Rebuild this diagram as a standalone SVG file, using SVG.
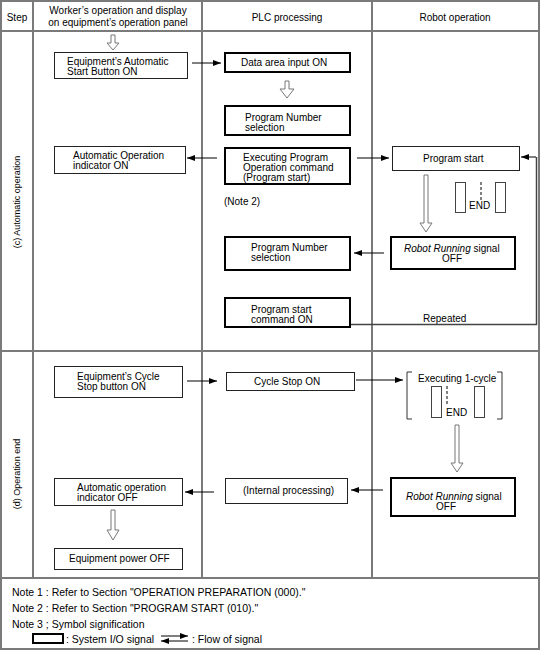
<svg xmlns="http://www.w3.org/2000/svg" width="541" height="651" viewBox="0 0 541 651">
<style>
text{font-family:"Liberation Sans",Arial,sans-serif;font-size:10px;fill:#000}
.grid{stroke:#7a7a7a;stroke-width:2;fill:none}
.thin{fill:#fff;stroke:#222;stroke-width:1}
.thick{fill:#fff;stroke:#000;stroke-width:2}
.hollow{fill:#fff;stroke:#777;stroke-width:1}
.arr{stroke:#000;stroke-width:1;fill:none;marker-end:url(#ah)}
.step{font-size:9px}
.note{font-size:10.5px}
.c{text-anchor:middle}
</style>
<defs>
<marker id="ah" markerUnits="userSpaceOnUse" markerWidth="8" markerHeight="6" refX="8" refY="3" orient="auto">
<path d="M0,0 L8,3 L0,6 z" fill="#000"/>
</marker>
</defs>
<rect width="541" height="651" fill="#fff"/>
<g id="grid">
<rect class="grid" x="1" y="1" width="538" height="648"/>
<line class="grid" x1="1" y1="31" x2="539" y2="31"/>
<line class="grid" x1="1" y1="351" x2="539" y2="351"/>
<line class="grid" x1="1" y1="578" x2="539" y2="578"/>
<line class="grid" x1="33" y1="1" x2="33" y2="578"/>
<line class="grid" x1="202" y1="1" x2="202" y2="578"/>
<line class="grid" x1="372" y1="1" x2="372" y2="578"/>
</g>
<g id="header">
<text class="c" x="17" y="21">Step</text>
<text class="c" x="118" y="14">Worker’s operation and display</text>
<text class="c" x="118" y="26">on equipment’s operation panel</text>
<text class="c" x="287" y="21">PLC processing</text>
<text class="c" x="455" y="21">Robot operation</text>
</g>
<g id="steps">
<text class="step c" transform="translate(20,202) rotate(-90)">(c) Automatic operation</text>
<text class="step c" transform="translate(20,474) rotate(-90)">(d) Operation end</text>
</g>
<g id="hollow-arrows">
<path class="hollow" d="M111,35 H115 V43 H119 L113,50 L107,43 H111 Z"/>
<path class="hollow" d="M285,81 H289 V89 H294 L287,98 L280,89 H285 Z"/>
<path class="hollow" d="M424,175 H428 V223 H432 L426,232 L420,223 H424 Z"/>
<path class="hollow" d="M111,510 H115 V530 H119 L113,540 L107,530 H111 Z"/>
<path class="hollow" d="M455,425 H459 V463 H463 L457,472 L451,463 H455 Z"/>
</g>
<g id="n-auto-start">
<rect class="thin" x="54.5" y="52.5" width="133" height="26"/>
<text x="67" y="65">Equipment’s Automatic</text>
<text x="67" y="75">Start Button ON</text>
</g>
<g id="n-data-area">
<rect class="thick" x="225" y="53" width="125" height="19"/>
<text x="241" y="66">Data area input ON</text>
</g>
<g id="n-prog-num-1">
<rect class="thick" x="225" y="106" width="125" height="29"/>
<text x="245" y="121">Program Number</text>
<text x="245" y="131">selection</text>
</g>
<g id="n-auto-ind-on">
<rect class="thin" x="54.5" y="146.5" width="131" height="27"/>
<text x="73" y="159">Automatic Operation</text>
<text x="73" y="169">indicator ON</text>
</g>
<g id="n-exec-prog">
<rect class="thick" x="225" y="148" width="125" height="36"/>
<text x="243" y="161">Executing Program</text>
<text x="243" y="171">Operation command</text>
<text x="243" y="181">(Program start)</text>
</g>
<text x="224" y="205">(Note 2)</text>
<g id="n-prog-start">
<rect class="thin" x="392.5" y="146.5" width="127" height="24"/>
<text x="423" y="162">Program start</text>
</g>
<g id="end-1">
<rect x="455.5" y="182.5" width="10" height="30" fill="none" stroke="#444" stroke-width="1"/>
<rect x="495.5" y="182.5" width="10" height="30" fill="none" stroke="#444" stroke-width="1"/>
<line x1="481" y1="182" x2="481" y2="201" stroke="#000" stroke-width="1" stroke-dasharray="3,2"/>
<text x="469" y="209">END</text>
</g>
<g id="n-robot-running-1">
<rect class="thick" x="391" y="237" width="124" height="32"/>
<text x="404" y="252"><tspan font-style="italic">Robot Running</tspan> signal</text>
<text x="442" y="262">OFF</text>
</g>
<g id="n-prog-num-2">
<rect class="thick" x="225" y="237" width="125" height="33"/>
<text x="251" y="251">Program Number</text>
<text x="251" y="261">selection</text>
</g>
<g id="n-prog-start-cmd">
<rect class="thick" x="225" y="298" width="125" height="29"/>
<text x="251" y="313">Program start</text>
<text x="251" y="323">command ON</text>
</g>
<text x="423" y="322">Repeated</text>
<g id="n-cycle-stop-btn">
<rect class="thin" x="54.5" y="366.5" width="128" height="31"/>
<text x="77" y="380">Equipment’s Cycle</text>
<text x="77" y="390">Stop button ON</text>
</g>
<g id="n-cycle-stop">
<rect class="thin" x="226.5" y="372.5" width="128" height="18"/>
<text x="254" y="385">Cycle Stop ON</text>
</g>
<g id="n-exec-cycle">
<path d="M412,372 H407 V419 H412" fill="none" stroke="#333" stroke-width="1"/>
<path d="M497,372 H502 V419 H497" fill="none" stroke="#333" stroke-width="1"/>
<text x="418" y="382">Executing 1-cycle</text>
<rect x="431.5" y="386.5" width="10" height="31" fill="none" stroke="#444" stroke-width="1"/>
<rect x="474.5" y="386.5" width="10" height="31" fill="none" stroke="#444" stroke-width="1"/>
<line x1="447" y1="386" x2="447" y2="405" stroke="#000" stroke-width="1" stroke-dasharray="3,2"/>
<text x="446" y="416">END</text>
</g>
<g id="n-auto-ind-off">
<rect class="thin" x="54.5" y="478.5" width="128" height="27"/>
<text x="77" y="491">Automatic operation</text>
<text x="77" y="501">indicator OFF</text>
</g>
<g id="n-internal">
<rect class="thin" x="225.5" y="478.5" width="122" height="25"/>
<text x="243" y="494">(Internal processing)</text>
</g>
<g id="n-robot-running-2">
<rect class="thick" x="391" y="478" width="124" height="38"/>
<text x="406" y="500"><tspan font-style="italic">Robot Running</tspan> signal</text>
<text x="436" y="510">OFF</text>
</g>
<g id="n-power-off">
<rect class="thin" x="54.5" y="548.5" width="128" height="21"/>
<text x="69" y="562">Equipment power OFF</text>
</g>
<g id="connectors">
<line class="arr" x1="192" y1="63" x2="221" y2="63"/>
<line class="arr" x1="217" y1="158" x2="187" y2="158"/>
<line class="arr" x1="357" y1="158" x2="389" y2="158"/>
<line class="arr" x1="384" y1="253" x2="354" y2="253"/>
<polyline points="351,324.5 536.5,324.5 536.5,157" fill="none" stroke="#444" stroke-width="1.5"/>
<line class="arr" x1="536" y1="157" x2="521" y2="157"/>
<line class="arr" x1="187" y1="381" x2="217" y2="381"/>
<line class="arr" x1="356" y1="380" x2="403" y2="380"/>
<line class="arr" x1="383" y1="490" x2="351" y2="490"/>
<line class="arr" x1="214" y1="492" x2="185" y2="492"/>
</g>
<g id="notes">
<text class="note" x="12" y="596">Note 1 : Refer to Section "OPERATION PREPARATION (000)."</text>
<text class="note" x="12" y="612">Note 2 : Refer to Section "PROGRAM START (010)."</text>
<text class="note" x="12" y="628">Note 3 ; Symbol signification</text>
<rect x="33" y="634" width="30" height="9" fill="none" stroke="#000" stroke-width="2"/>
<text class="note" x="66" y="643">: System I/O signal</text>
<line class="arr" x1="161" y1="636" x2="188" y2="636"/>
<line class="arr" x1="188" y1="641" x2="161" y2="641"/>
<text class="note" x="192" y="643">: Flow of signal</text>
</g>
</svg>
